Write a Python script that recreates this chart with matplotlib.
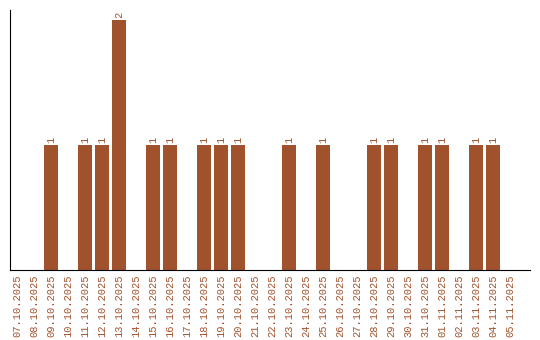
import matplotlib
matplotlib.use("Agg")
import matplotlib.pyplot as plt
import numpy as np

# -----------------------------
# Data
# -----------------------------
dates = [
    "07.10.2025", "08.10.2025", "09.10.2025", "10.10.2025", "11.10.2025",
    "12.10.2025", "13.10.2025", "14.10.2025", "15.10.2025", "16.10.2025",
    "17.10.2025", "18.10.2025", "19.10.2025", "20.10.2025", "21.10.2025",
    "22.10.2025", "23.10.2025", "24.10.2025", "25.10.2025", "26.10.2025",
    "27.10.2025", "28.10.2025", "29.10.2025", "30.10.2025", "31.10.2025",
    "01.11.2025", "02.11.2025", "03.11.2025", "04.11.2025", "05.11.2025",
]
counts = [
    0, 0, 1, 0, 1,
    1, 2, 0, 1, 1,
    0, 1, 1, 1, 0,
    0, 1, 0, 1, 0,
    0, 1, 1, 0, 1,
    1, 0, 1, 1, 0,
]

color = "#a0522d"
font = "Liberation Mono"

fig = plt.figure(figsize=(5.4, 3.4), dpi=100)
ax = fig.add_axes([10 / 540, 70 / 340, 520 / 540, 260 / 340])

x = np.arange(len(dates))
ax.bar(x, counts, width=0.82, color=color)

for xi, v in zip(x, counts):
    if v > 0:
        ax.text(xi, v + 0.015, str(v), rotation=90, ha="center", va="bottom",
                color=color, fontsize=7.5, family=font)

ax.set_xlim(-0.41, 30.18)
ax.set_ylim(0, 2.08)
ax.set_xticks(x)
ax.set_xticklabels(dates, rotation=90, color=color, fontsize=7.5, family=font)
ax.tick_params(axis="x", length=0, pad=3)
ax.set_yticks([])
ax.spines["top"].set_visible(False)
ax.spines["right"].set_visible(False)

fig.savefig("out.png", dpi=100)
